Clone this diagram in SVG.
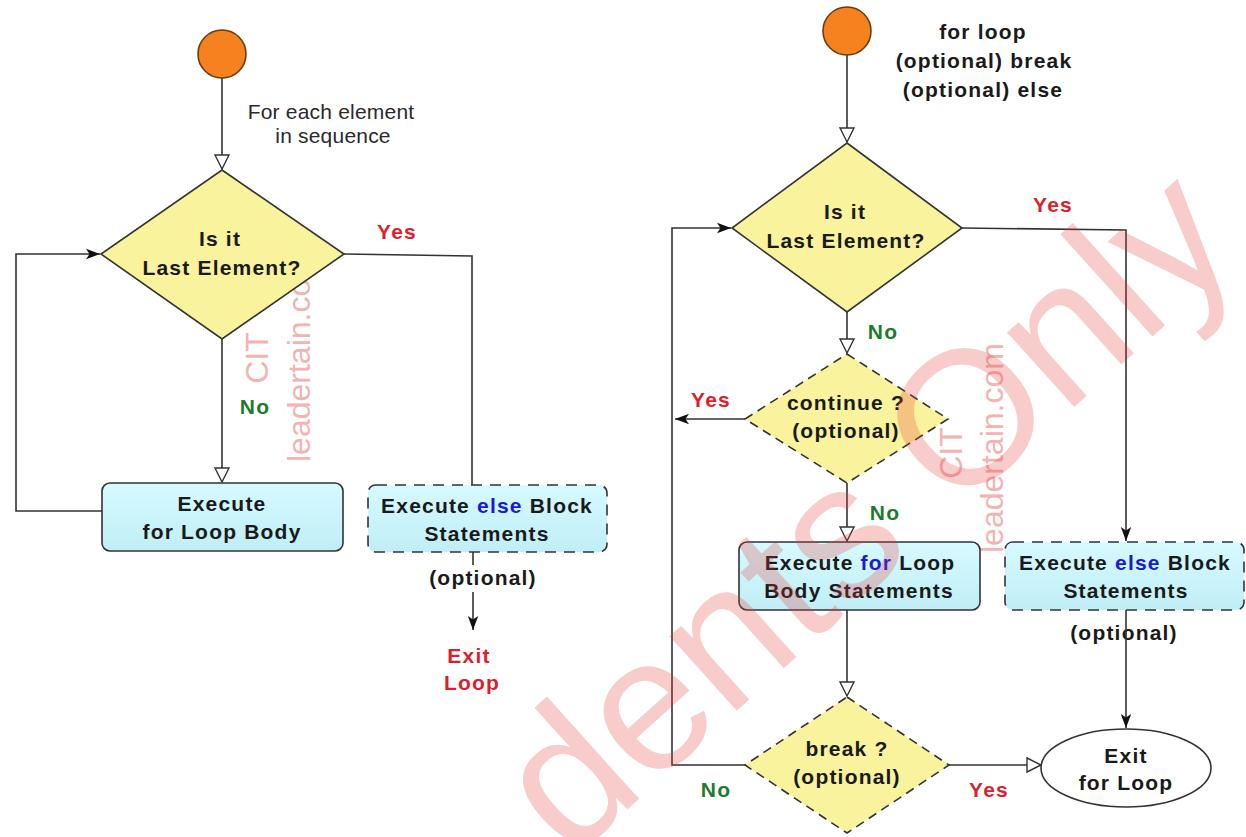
<svg xmlns="http://www.w3.org/2000/svg" width="1246" height="837" viewBox="0 0 1246 837">
<style>
.t{font-family:"Liberation Sans",Arial,Helvetica,sans-serif;font-weight:bold;font-size:21px;letter-spacing:1.2px;text-anchor:middle;fill:#1a1a1a}
.reg{font-weight:normal;letter-spacing:0.2px;fill:#2a2a2a}
.red{fill:#dc1f2b}
.grn{fill:#1e7b2e}
.blu{fill:#1a1ad6}
.ln{fill:none;stroke:#333;stroke-width:1.6}
.dia{fill:#f8f39c;stroke:#333;stroke-width:1.6}
.dash{stroke-dasharray:9 6}
.box{fill:url(#cyan);stroke:#333;stroke-width:1.6}
.bdash{stroke-dasharray:11 8}
.wm{font-family:"Liberation Sans",Arial,sans-serif;fill:#f2b3b3}
</style>
<defs>
<linearGradient id="cyan" x1="0" y1="0" x2="0" y2="1">
<stop offset="0" stop-color="#d6faff"/>
<stop offset="1" stop-color="#c0eef6"/>
</linearGradient>
<marker id="open" markerUnits="userSpaceOnUse" markerWidth="17" markerHeight="17" refX="15" refY="8.5" orient="auto">
<path d="M1,1.5 L15,8.5 L1,15.5 z" fill="#fff" stroke="#333" stroke-width="1.4"/>
</marker>
<marker id="solid" markerUnits="userSpaceOnUse" markerWidth="15" markerHeight="12" refX="14" refY="6" orient="auto">
<path d="M0,0.8 L14,6 L0,11.2 L3.5,6 z" fill="#111"/>
</marker>
</defs>
<rect width="1246" height="837" fill="#fff"/>

<g id="watermark-small">
<text class="wm" font-size="32" text-anchor="middle" transform="translate(268,358) rotate(-90)">CIT</text>
<text class="wm" font-size="32" transform="translate(310,462) rotate(-90)">leadertain.com</text>
<text class="wm" font-size="32" text-anchor="middle" transform="translate(962,453) rotate(-90)">CIT</text>
<text class="wm" font-size="32" transform="translate(1003,553) rotate(-90)">leadertain.com</text>
</g>

<g id="connectors">
<path class="ln" d="M222 78 V169" marker-end="url(#open)"/>
<path class="ln" d="M222 339 V482" marker-end="url(#open)"/>
<path class="ln" d="M344 254 L472 256 V485"/>
<path class="ln" d="M102 511 H16 V254 H100" marker-end="url(#solid)"/>
<path class="ln" d="M473 552 V630" marker-end="url(#solid)"/>
<rect x="428" y="565" width="110" height="27" fill="#fff"/>
<text class="t" x="483" y="585">(optional)</text>
<text class="t red" x="397" y="239">Yes</text>
<text class="t grn" x="255" y="414">No</text>
<text class="t reg" x="331" y="119">For each element</text>
<text class="t reg" x="333" y="143">in sequence</text>
<text class="t red" x="469" y="663">Exit</text>
<text class="t red" x="472" y="690">Loop</text>

<path class="ln" d="M847 55 V142" marker-end="url(#open)"/>
<path class="ln" d="M847 312 V353" marker-end="url(#open)"/>
<path class="ln" d="M962 228 L1126 230 V541" marker-end="url(#solid)"/>
<path class="ln" d="M745 419 H675" marker-end="url(#solid)"/>
<path class="ln" d="M847 483 V541" marker-end="url(#open)"/>
<path class="ln" d="M847 610 V696" marker-end="url(#open)"/>
<path class="ln" d="M745 765 H672 V228 H731" marker-end="url(#solid)"/>
<path class="ln" d="M949 765 H1041" marker-end="url(#open)"/>
<text class="t" x="1124" y="640">(optional)</text>
<path class="ln" d="M1126 610 V728" marker-end="url(#solid)"/>
<text class="t" x="983" y="39">for loop</text>
<text class="t" x="984" y="68">(optional) break</text>
<text class="t" x="983" y="97">(optional) else</text>
<text class="t red" x="1053" y="212">Yes</text>
<text class="t grn" x="883" y="339">No</text>
<text class="t red" x="711" y="407">Yes</text>
<text class="t grn" x="885" y="520">No</text>
<text class="t grn" x="716" y="797">No</text>
<text class="t red" x="989" y="797">Yes</text>
</g>

<g id="start-left">
<circle cx="222" cy="54" r="24" fill="#f5821f" stroke="#6b3d12" stroke-width="1.6"/>
</g>
<g id="decision-left">
<polygon class="dia" points="222,170 344,254 222,339 101,254"/>
<text class="t" x="220" y="246">Is it</text>
<text class="t" x="222" y="275">Last Element?</text>
</g>
<g id="body-left">
<rect class="box" x="102" y="483" width="241" height="68" rx="8"/>
<text class="t" x="222" y="511">Execute</text>
<text class="t" x="222" y="539">for Loop Body</text>
</g>
<g id="else-left">
<rect class="box bdash" x="368" y="485" width="239" height="67" rx="8"/>
<text class="t" x="487" y="513">Execute <tspan class="blu">else</tspan> Block</text>
<text class="t" x="487" y="541">Statements</text>
</g>

<g id="start-right">
<circle cx="847" cy="31" r="24" fill="#f5821f" stroke="#6b3d12" stroke-width="1.6"/>
</g>
<g id="decision-right">
<polygon class="dia" points="847,143 962,228 847,312 732,228"/>
<text class="t" x="845" y="219">Is it</text>
<text class="t" x="846" y="248">Last Element?</text>
</g>
<g id="continue">
<polygon class="dia dash" points="847,354 948,419 847,483 745,419"/>
<text class="t" x="846" y="410">continue ?</text>
<text class="t" x="846" y="438">(optional)</text>
</g>
<g id="body-right">
<rect class="box" x="739" y="542" width="241" height="68" rx="8"/>
<text class="t" x="860" y="570">Execute <tspan class="blu">for</tspan> Loop</text>
<text class="t" x="859" y="598">Body Statements</text>
</g>
<g id="else-right">
<rect class="box bdash" x="1005" y="542" width="239" height="68" rx="8"/>
<text class="t" x="1125" y="570">Execute <tspan class="blu">else</tspan> Block</text>
<text class="t" x="1126" y="598">Statements</text>
</g>
<g id="break">
<polygon class="dia dash" points="847,697 949,765 847,833 745,765"/>
<text class="t" x="847" y="756">break ?</text>
<text class="t" x="847" y="784">(optional)</text>
</g>
<g id="exit">
<ellipse cx="1126" cy="768" rx="85" ry="39" fill="#fff" stroke="#333" stroke-width="1.6"/>
<text class="t" x="1126" y="763">Exit</text>
<text class="t" x="1126" y="790">for Loop</text>
</g>

<g id="watermark-large">
<text font-family="Liberation Sans, Arial, sans-serif" font-size="190" fill="#e83a3a" fill-opacity="0.26" transform="translate(570,861) rotate(-42)">dents Only</text>
</g>
</svg>
